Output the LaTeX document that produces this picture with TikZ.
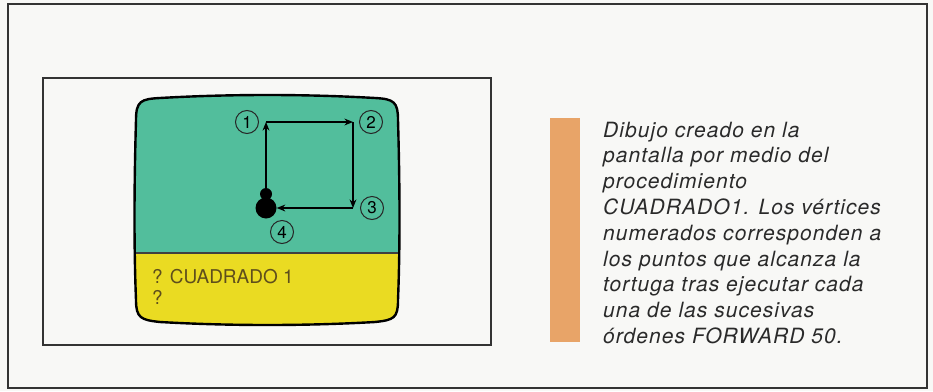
\documentclass[tikz,border=0pt]{standalone}
\usepackage{fontspec}
\setmainfont{TeX Gyre Heros}
\newfontfamily\capfont[LetterSpace=5]{TeX Gyre Heros}
\usepackage{tikz}
\usetikzlibrary{arrows.meta}
\definecolor{paper}{HTML}{F8F8F6}
\definecolor{screengreen}{HTML}{52BE9C}
\definecolor{screenyellow}{HTML}{EADB22}
\definecolor{promptink}{HTML}{5E4E1C}
\definecolor{barorange}{HTML}{E8A468}
\definecolor{captionink}{HTML}{2A2A2A}
\tikzset{
  frame/.style={draw=black!80, line width=1.3pt},                     % box outline
  track/.style={draw=black, line width=2.4pt, -{Stealth[length=3mm,width=2.4mm]}}, % turtle move
  vnum/.style={circle, draw=black!85, line width=1pt, minimum size=23pt,
               inner sep=0pt, font=\fontsize{17}{17}\selectfont},
  prompt/.style={anchor=base west, inner sep=0pt, text=promptink,
                 font=\fontsize{19}{19}\selectfont},
  caption/.style={anchor=base west, inner sep=0pt, text=captionink,
                  font=\fontsize{21}{21}\capfont\itshape},
}
\begin{document}
\begin{tikzpicture}[x=1pt,y=-1pt]
  \useasboundingbox (0,0) rectangle (933,391);
  \fill[paper] (0,0) rectangle (933,391);
  \draw[frame] (8,4) rectangle (927,388);
  \draw[frame, line width=1.1pt] (43,78) rectangle (491,345);
  % screen
  \def\screenpath{(136,120) .. controls (136,101) and (141,99) .. (160,98)
    .. controls (230,94) and (305,94) .. (375,98)
    .. controls (394,99) and (398,102) .. (398,120)
    .. controls (400,190) and (400,250) .. (398,300)
    .. controls (398,318) and (394,320) .. (375,322)
    .. controls (305,326) and (230,326) .. (160,322)
    .. controls (141,320) and (136,318) .. (136,300)
    .. controls (134,250) and (134,190) .. (136,120) -- cycle}
  \begin{scope}
    \clip \screenpath;
    \fill[screengreen] (130,90) rectangle (405,253);
    \fill[screenyellow] (130,253) rectangle (405,330);
    \draw[black!75, line width=1.2pt] (130,253) -- (405,253);
  \end{scope}
  \draw[black, line width=2.4pt] \screenpath;
  % square drawn by the turtle
  \coordinate (c1) at (266,122);
  \coordinate (c2) at (353,122);
  \coordinate (c3) at (353,208);
  \node[circle, fill=black, minimum size=21pt, inner sep=0pt] (turtle) at (266,208) {};
  \node[circle, fill=black, minimum size=12pt, inner sep=0pt] (head) at (266,194) {};
  \draw[track] (head.north) -- (c1);
  \draw[track] (c1) -- (c2);
  \draw[track] (c2) -- (c3);
  \draw[track] (c3) -- (turtle.east);
  \node[vnum] (n1) at (247,122) {1};
  \node[vnum] (n2) at (371,122) {2};
  \node[vnum] (n3) at (372,208) {3};
  \node[vnum] (n4) at (282,232) {4};
  \node[prompt] (cmd) at (152,283) {? CUADRADO 1};
  \node[prompt] (ask) at (152,304) {?};
  % caption
  \fill[barorange] (550,118) rectangle (580,342);
  \foreach \i/\txt in {0/Dibujo creado en la, 1/pantalla por medio del,
                       2/procedimiento, 3/CUADRADO1. Los vértices,
                       4/numerados corresponden a, 5/los puntos que alcanza la,
                       6/tortuga tras ejecutar cada, 7/una de las sucesivas,
                       8/órdenes FORWARD 50.}
    \node[caption] (cap\i) at (603,137+25.8*\i) {\txt};
\end{tikzpicture}
\end{document}
